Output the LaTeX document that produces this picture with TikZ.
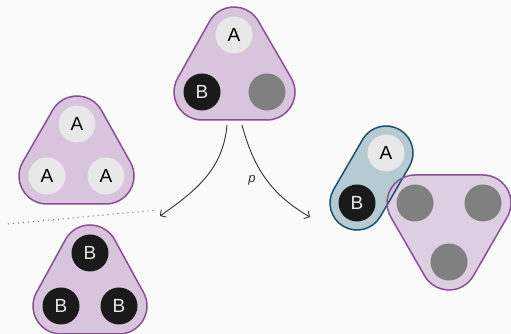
\documentclass[tikz,border=0pt]{standalone}
\usepackage{fontspec}
\setmainfont{Liberation Sans}
\usetikzlibrary{calc,arrows.meta}

\definecolor{bgc}{RGB}{250,250,250}
\definecolor{trifill}{RGB}{216,196,220}
\definecolor{triline}{RGB}{138,80,148}
\definecolor{capfill}{RGB}{181,202,211}
\definecolor{capline}{RGB}{26,82,108}
\definecolor{dotgray}{RGB}{128,128,128}
\definecolor{lightc}{RGB}{232,232,232}
\definecolor{darkc}{RGB}{26,26,26}
\definecolor{arrowc}{RGB}{50,50,50}

\newcommand\R{28}
% rounded triangle pointing up: #1 style, #2 top, #3 bottom-left, #4 bottom-right
\newcommand\uptri[4]{%
  \path[#1] ($(#2)+(30:\R)$) arc[start angle=30,end angle=150,radius=\R]
    -- ($(#3)+(150:\R)$) arc[start angle=150,end angle=270,radius=\R]
    -- ($(#4)+(270:\R)$) arc[start angle=270,end angle=390,radius=\R] -- cycle;}
% rounded triangle pointing down: #1 style, #2 bottom, #3 top-right, #4 top-left
\newcommand\downtri[4]{%
  \path[#1] ($(#2)+(210:\R)$) arc[start angle=210,end angle=330,radius=\R]
    -- ($(#3)+(330:\R)$) arc[start angle=330,end angle=450,radius=\R]
    -- ($(#4)+(90:\R)$) arc[start angle=90,end angle=210,radius=\R] -- cycle;}

\tikzset{
  group/.style={fill=trifill, draw=triline, line width=1.5pt},
  ball/.style={circle, minimum size=37pt, inner sep=0pt, font=\fontsize{19}{19}\selectfont},
  ballA/.style={ball, fill=lightc, text=black},
  ballB/.style={ball, fill=darkc, text=lightc},
  ballE/.style={ball, fill=dotgray},
  link/.style={draw=arrowc, line width=0.9pt, -{Straight Barb[length=4pt,width=9pt]}},
}

\begin{document}
\begin{tikzpicture}[x=1pt,y=1pt]
\fill[bgc] (0,0) rectangle (511,334);
\useasboundingbox (0,0) rectangle (511,334);

% top group
\coordinate (t1) at (234,299); \coordinate (t2) at (202,242); \coordinate (t3) at (267,242);
\uptri{group}{t1}{t2}{t3}
\node[ballA] (tA) at (t1) {A};
\node[ballB] (tB) at (t2) {B};
\node[ballE] (tE) at (t3) {};

% group of A
\coordinate (a1) at (77,210); \coordinate (a2) at (47,158); \coordinate (a3) at (106,158);
\uptri{group}{a1}{a2}{a3}
\node[ballA] (aA1) at (a1) {A};
\node[ballA] (aA2) at (a2) {A};
\node[ballA] (aA3) at (a3) {A};

% group of B
\coordinate (b1) at (90,81); \coordinate (b2) at (61,28); \coordinate (b3) at (119,28);
\uptri{group}{b1}{b2}{b3}
\node[ballB] (bB1) at (b1) {B};
\node[ballB] (bB2) at (b2) {B};
\node[ballB] (bB3) at (b3) {B};

% pair split off, and the emptied group
\coordinate (cA) at (386,181); \coordinate (cB) at (357,131);
\coordinate (e1) at (449,72); \coordinate (e2) at (483,131); \coordinate (e3) at (415,131);
\newcommand\capsule[1]{%
  \path[#1] ($(cA)+(330:27)$) arc[start angle=330,end angle=510,radius=27]
    -- ($(cB)+(150:27)$) arc[start angle=150,end angle=330,radius=27] -- cycle;}
\capsule{fill=capfill}
\downtri{fill=trifill, fill opacity=0.8}{e1}{e2}{e3}
\capsule{draw=capline, line width=1.5pt}
\downtri{draw=triline, line width=1.5pt}{e1}{e2}{e3}
\node[ballA] (cNA) at (cA) {A};
\node[ballB] (cNB) at (cB) {B};
\node[ballE] (eE1) at (e1) {};
\node[ballE] (eE2) at (e2) {};
\node[ballE] (eE3) at (e3) {};

% separator
\coordinate (d1) at (8,110); \coordinate (d2) at (157,124);
\draw[dotgray!80!black, line width=1pt, dash pattern=on 1pt off 4pt] (d1) -- (d2);

% transitions
\coordinate (s1) at (227,209); \coordinate (s2) at (242,209);
\coordinate (g1) at (160,118); \coordinate (g2) at (310,117);
\draw[link] (s1) to[out=265, in=35] (g1);
\draw[link] (s2) to[out=285, in=150] (g2);
\node[font=\itshape\fontsize{13}{13}\selectfont, text=arrowc] (plab) at (252,154) {p};
\end{tikzpicture}
\end{document}
